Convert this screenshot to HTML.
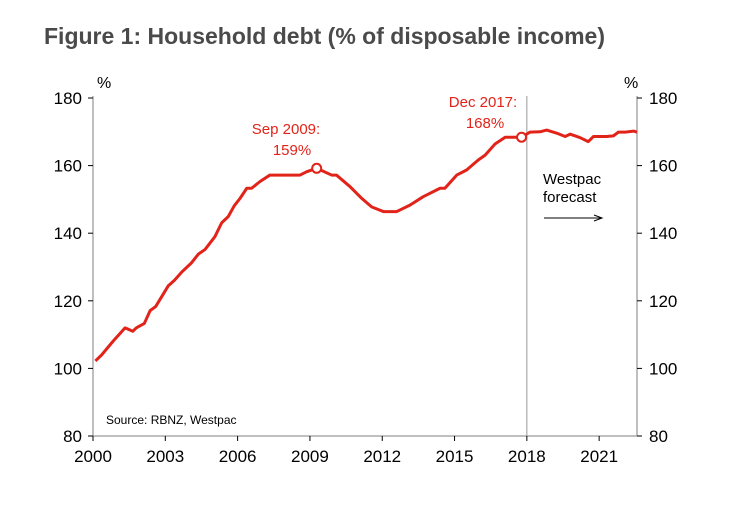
<!DOCTYPE html>
<html><head><meta charset="utf-8"><style>
body{margin:0;background:#fff;width:735px;height:504px;overflow:hidden;font-family:"Liberation Sans",Arial,sans-serif}
svg text{font-family:"Liberation Sans",Arial,sans-serif}
</style></head><body>
<svg width="735" height="504">
<text x="44" y="44" font-size="23" font-weight="600" fill="#4a4a4a">Figure 1: Household debt (% of disposable income)</text>
<g id="axes"></g>
<g id="plot"></g>
</svg>
<script>
const years=[2000.1,2000.36,2000.84,2001.33,2001.65,2001.8,2002.13,2002.37,2002.6,2003.12,2003.37,2003.68,2004.07,2004.37,2004.65,2005.06,2005.34,2005.61,2005.86,2006.1,2006.38,2006.58,2006.93,2007.34,2008.59,2008.87,2009.28,2009.9,2010.1,2010.66,2011.15,2011.56,2012.05,2012.6,2013.15,2013.7,2014.4,2014.6,2015.09,2015.5,2015.99,2016.27,2016.68,2017.1,2017.5,2017.78,2018.13,2018.55,2018.82,2019.24,2019.59,2019.8,2020.2,2020.55,2020.76,2021.31,2021.59,2021.8,2022.08,2022.43,2022.57];
const debt=[102.2,104,108.1,112,111,112,113.3,117.1,118.3,124.4,126,128.5,131.1,133.8,135.2,139,143.1,144.9,148.1,150.3,153.3,153.3,155.3,157.2,157.2,158.2,159.2,157.2,157.2,153.8,150.3,147.8,146.4,146.4,148.3,150.8,153.3,153.3,157.2,158.7,161.7,163.1,166.4,168.4,168.4,168.4,169.9,170,170.5,169.6,168.6,169.3,168.3,167.1,168.6,168.6,168.8,169.9,169.9,170.2,169.9];
const yTicks=[80,100,120,140,160,180];
const xTicks=[2000,2003,2006,2009,2012,2015,2018,2021];
const markers=[[2009.28,159.2],[2017.78,168.4]];
const X0=93,X1=637,Y0=436,Y1=98;
const xs=y=>X0+(y-2000)*(X1-X0)/22.57;
const ys=v=>Y0-(v-80)*(Y0-Y1)/100;
const NS="http://www.w3.org/2000/svg";
const ax=document.getElementById('axes'),pl=document.getElementById('plot');
function mk(p,tag,at,txt){const e=document.createElementNS(NS,tag);for(const k in at)e.setAttribute(k,at[k]);if(txt!==undefined)e.textContent=txt;p.appendChild(e);return e;}
let e;
e=mk(ax,'line',{x1:X0,y1:Y1-2,x2:X0,y2:Y0,stroke:'#aaa','stroke-width':1.5});


e=mk(ax,'line',{x1:X1,y1:Y1-2,x2:X1,y2:Y0,stroke:'#aaa','stroke-width':1.5});


e=mk(ax,'line',{x1:X0,y1:Y0,x2:X1,y2:Y0,stroke:'#aaa','stroke-width':1.5});


e=mk(ax,'line',{x1:xs(2018),y1:Y1-2,x2:xs(2018),y2:Y0,stroke:'#999','stroke-width':1});


yTicks.forEach(v=>{const y=ys(v);
mk(ax,'line',{x1:X0-5,y1:y,x2:X0,y2:y,stroke:'#000'});
mk(ax,'line',{x1:X1,y1:y,x2:X1+5,y2:y,stroke:'#000'});
e=mk(ax,'text',{x:82,y:y+6,'text-anchor':'end','font-size':17,fill:'#000'},v);


e=mk(ax,'text',{x:649,y:y+6,'font-size':17,fill:'#000'},v);


});
xTicks.forEach(t=>{const x=xs(t);
mk(ax,'line',{x1:x,y1:Y0,x2:x,y2:Y0+5,stroke:'#000'});
e=mk(ax,'text',{x:x,y:Y0+26,'text-anchor':'middle','font-size':17,fill:'#000'},t);


});
e=mk(ax,'text',{x:97,y:88,'font-size':16},'%');


e=mk(ax,'text',{x:624,y:88,'font-size':16},'%');


e=mk(pl,'polyline',{points:years.map((y,i)=>xs(y)+','+ys(debt[i])).join(' '),fill:'none',stroke:'#e2231a','stroke-width':3,'stroke-linejoin':'round'});


markers.forEach(m=>{e=mk(pl,'circle',{cx:xs(m[0]),cy:ys(m[1]),r:4.5,fill:'#fff',stroke:'#e2231a','stroke-width':2});

});
const ann=[[286,134,'Sep 2009:'],[292,155,'159%'],[483,107,'Dec 2017:'],[485,128,'168%']];
ann.forEach(a=>{e=mk(pl,'text',{x:a[0],y:a[1],'text-anchor':'middle','font-size':15,fill:'#e2231a'},a[2]);

});
e=mk(pl,'text',{x:543,y:184,'font-size':15},'Westpac');


e=mk(pl,'text',{x:543,y:202,'font-size':15},'forecast');


e=mk(pl,'line',{x1:544,y1:218,x2:601,y2:218,stroke:'#000','stroke-width':1});


mk(pl,'path',{d:'M594,215 L602,218 L594,221',fill:'none',stroke:'#000'});
e=mk(pl,'text',{x:106,y:424,'font-size':12},'Source: RBNZ, Westpac');


</script>
</body></html>
